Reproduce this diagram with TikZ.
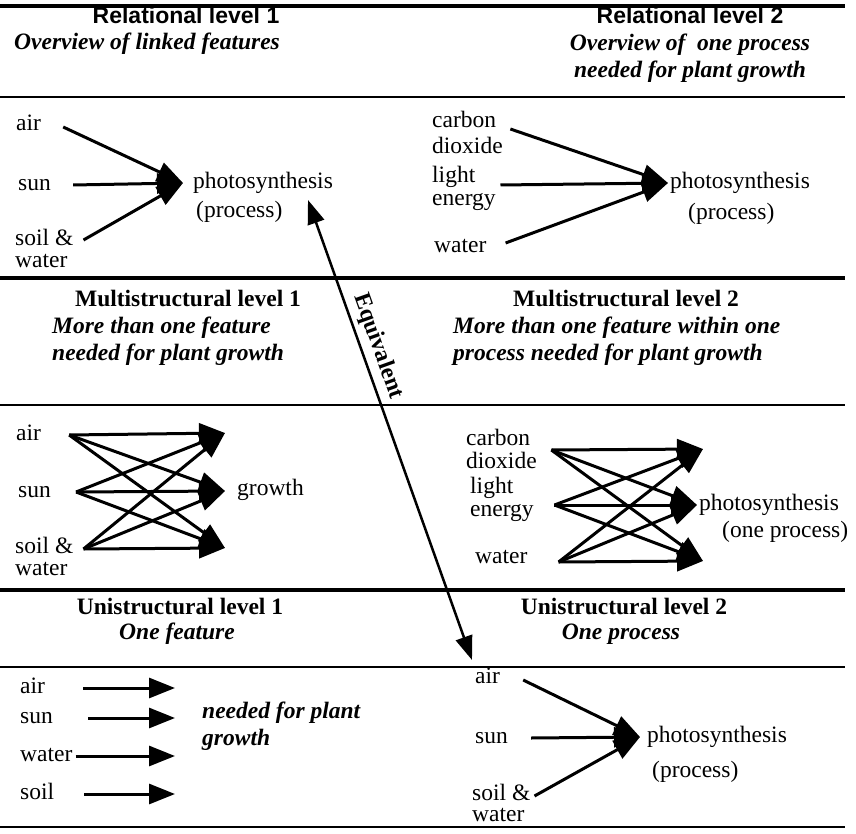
\documentclass[tikz,border=0pt]{standalone}
\usepackage{fontspec}
\setmainfont{Liberation Serif}
\newfontfamily\headfont{Liberation Sans}
\usetikzlibrary{arrows.meta}
\begin{document}
\begin{tikzpicture}[x=1pt,y=-1pt,
  every node/.style={inner sep=0pt,font=\fontsize{23.5}{26}\selectfont},
  word/.style={anchor=west,text height=16pt,text depth=5pt},
  relhead/.style={font=\fontsize{23}{26}\selectfont\headfont\bfseries},
  levhead/.style={font=\fontsize{23.5}{26}\selectfont\bfseries},
  note/.style={font=\fontsize{23.5}{27}\selectfont\bfseries\itshape},
  heavyrule/.style={line width=4.5pt},
  lightrule/.style={line width=2.2pt},
  feed/.style={line width=3pt,-{Triangle[length=26pt,width=20pt]}},
  equiv/.style={line width=2.5pt,{Triangle[length=24pt,width=17pt]}-{Triangle[length=24pt,width=17pt]}}]
\useasboundingbox (0,0) rectangle (856,834);

\draw[heavyrule] (0,6) -- (845,6);
\draw[lightrule] (0,97) -- (845,97);
\draw[heavyrule] (0,278) -- (845,278);
\draw[lightrule] (0,405) -- (845,405);
\draw[heavyrule] (0,590) -- (845,590);
\draw[lightrule] (0,667) -- (845,667);
\draw[lightrule] (0,827) -- (845,827);

\node[relhead] (rel1) at (186,15) {Relational level 1};
\node[relhead] (rel2) at (690,15) {Relational level 2};
\node[note] (ov1) at (147,44) {Overview of linked features};
\node[note,align=center] (ov2) at (690,58) {Overview of \ one process\\needed for plant growth};

\node[word] (air1) at (16,125) {air};
\node[word] (sun1) at (18,185) {sun};
\node[word] (soil1) at (15,240) {soil \&};
\node[word] (wat1) at (15,262) {water};
\node[word] (phot1) at (193,183) {photosynthesis};
\node[word] (proc1) at (196,212) {(process)};
\coordinate (tip1) at (183,183);
\draw[feed] ([shift={(22,2)}]air1.east) -- (tip1);
\draw[feed] ([shift={(22,0)}]sun1.east) -- (tip1);
\draw[feed] ([shift={(10,0)}]soil1.east) -- (tip1);

\node[word] (carb2) at (432,122) {carbon};
\node[word] (diox2) at (432,148) {dioxide};
\node[word] (light2) at (432,177) {light};
\node[word] (ener2) at (432,200) {energy};
\node[word] (wat2) at (434,247) {water};
\node[word] (phot2) at (670,183) {photosynthesis};
\node[word] (proc2) at (688,214) {(process)};
\coordinate (tip2) at (668,183);
\draw[feed] ([shift={(14,7)}]carb2.east) -- (tip2);
\draw[feed] ([shift={(25,8)}]light2.east) -- (tip2);
\draw[feed] ([shift={(19,-4)}]wat2.east) -- (tip2);

\node[levhead] (mul1) at (188,298) {Multistructural level 1};
\node[levhead] (mul2) at (626,298) {Multistructural level 2};
\node[note,align=left,anchor=west] (more1) at (52,341) {More than one feature\\needed for plant growth};
\node[note,align=left,anchor=west] (more2) at (453,341) {More than one feature within one\\process needed for plant growth};

\node[word] (air3) at (16,435) {air};
\node[word] (sun3) at (18,492) {sun};
\node[word] (soil3) at (15,548) {soil \&};
\node[word] (wat3) at (15,570) {water};
\node[word] (grow3) at (237,490) {growth};
\coordinate (m3a) at ([shift={(28,0)}]air3.east);
\coordinate (m3b) at ([shift={(25,0)}]sun3.east);
\coordinate (m3c) at ([shift={(10,1)}]soil3.east);
\coordinate (g3a) at (225,433);
\coordinate (g3b) at (225,491);
\coordinate (g3c) at (225,548);
\draw[feed] (m3a) -- (g3a);
\draw[feed] (m3a) -- (g3b);
\draw[feed] (m3a) -- (g3c);
\draw[feed] (m3b) -- (g3a);
\draw[feed] (m3b) -- (g3b);
\draw[feed] (m3b) -- (g3c);
\draw[feed] (m3c) -- (g3a);
\draw[feed] (m3c) -- (g3b);
\draw[feed] (m3c) -- (g3c);

\node[word] (carb4) at (466,440) {carbon};
\node[word] (diox4) at (466,463) {dioxide};
\node[word] (light4) at (470,488) {light};
\node[word] (ener4) at (470,511) {energy};
\node[word] (wat4) at (475,558) {water};
\node[word] (phot4) at (699,505) {photosynthesis};
\node[word] (proc4) at (722,532) {(one process)};
\coordinate (m4a) at ([shift={(21,10)}]carb4.east);
\coordinate (m4b) at ([shift={(41,17)}]light4.east);
\coordinate (m4c) at ([shift={(31,4)}]wat4.east);
\coordinate (p4a) at (703,449);
\coordinate (p4b) at (697,505);
\coordinate (p4c) at (703,561);
\draw[feed] (m4a) -- (p4a);
\draw[feed] (m4a) -- (p4b);
\draw[feed] (m4a) -- (p4c);
\draw[feed] (m4b) -- (p4a);
\draw[feed] (m4b) -- (p4b);
\draw[feed] (m4b) -- (p4c);
\draw[feed] (m4c) -- (p4a);
\draw[feed] (m4c) -- (p4b);
\draw[feed] (m4c) -- (p4c);

\node[levhead] (uni1) at (180,606) {Unistructural level 1};
\node[levhead] (uni2) at (624,606) {Unistructural level 2};
\node[note] (feat1) at (177,634) {One feature};
\node[note] (proc0) at (621,634) {One process};

\node[word] (air5) at (20,688) {air};
\node[word] (sun5) at (20,718) {sun};
\node[word] (wat5) at (20,756) {water};
\node[word] (soil5) at (20,794) {soil};
\node[note,align=left,anchor=west] (need5) at (202,726) {needed for plant\\growth};
\coordinate (t5a) at (175,688);
\coordinate (t5b) at (175,718);
\coordinate (t5c) at (175,756);
\coordinate (t5d) at (175,794);
\draw[feed] ([shift={(38,0)}]air5.east) -- (t5a);
\draw[feed] ([shift={(35,0)}]sun5.east) -- (t5b);
\draw[feed] ([shift={(3,0)}]wat5.east) -- (t5c);
\draw[feed] ([shift={(30,0)}]soil5.east) -- (t5d);

\node[word] (air6) at (475,678) {air};
\node[word] (sun6) at (475,738) {sun};
\node[word] (soil6) at (472,795) {soil \&};
\node[word] (wat6) at (472,816) {water};
\node[word] (phot6) at (647,737) {photosynthesis};
\node[word] (proc6) at (652,772) {(process)};
\coordinate (tip6) at (640,737);
\draw[feed] ([shift={(23,2)}]air6.east) -- (tip6);
\draw[feed] ([shift={(23,0)}]sun6.east) -- (tip6);
\draw[feed] ([shift={(4,1)}]soil6.east) -- (tip6);

\coordinate (eqa) at (308,200);
\coordinate (eqb) at (472,660);
\draw[equiv] (eqa) -- (eqb) node[pos=0.33,sloped,above=5pt,levhead] (eqlbl) {Equivalent};
\end{tikzpicture}
\end{document}
